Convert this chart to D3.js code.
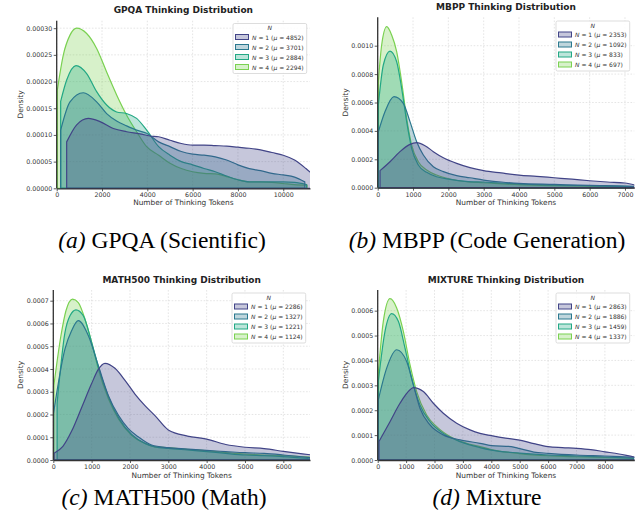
<!DOCTYPE html>
<html><head><meta charset="utf-8">
<script src="https://cdn.jsdelivr.net/npm/d3@7"></script>
<style>body{margin:0;background:#fff}svg{display:block}</style>
</head><body>
<svg id="chart" width="637" height="524"></svg>
<script>
// ---------- DATA ----------
const seriesN = [1, 2, 3, 4];
const seriesColors = ["#414487", "#2a788e", "#22a884", "#7ad151"];

const gpqaMeans = [4852, 3701, 2884, 2294];
const mbppMeans = [2353, 1092, 833, 697];
const mathMeans = [2286, 1327, 1221, 1124];
const mixMeans  = [2863, 1886, 1459, 1337];

const gpqaXTicks = [0, 2000, 4000, 6000, 8000, 10000];
const gpqaYTicks = [0, 0.00005, 0.0001, 0.00015, 0.0002, 0.00025, 0.0003];
const mbppXTicks = [0, 1000, 2000, 3000, 4000, 5000, 6000, 7000];
const mbppYTicks = [0, 0.0002, 0.0004, 0.0006, 0.0008, 0.001];
const mathXTicks = [0, 1000, 2000, 3000, 4000, 5000, 6000];
const mathYTicks = [0, 0.0001, 0.0002, 0.0003, 0.0004, 0.0005, 0.0006, 0.0007];
const mixXTicks  = [0, 1000, 2000, 3000, 4000, 5000, 6000, 7000, 8000];
const mixYTicks  = [0, 0.0001, 0.0002, 0.0003, 0.0004, 0.0005, 0.0006];

// [tokens, density]
const gpqaN1 = [[440,0.000087],[881,0.000119],[1395,0.000131],[1910,0.000125],[2499,0.000112],[3087,0.000106],[3675,0.000102],[4117,0.000098],[4500,0.0000966],[5000,0.00009],[5500,0.000084],[6000,0.000081],[6500,0.000081],[7000,0.00008],[7500,0.000079],[8000,0.000077],[8500,0.000075],[9000,0.000072],[9500,0.000067],[10000,0.000062],[10500,0.000053],[11000,0.000037],[11400,0.000022]];
const gpqaN2 = [[175,0.000109],[587,0.000162],[1175,0.000179],[1763,0.000162],[2204,0.00014],[2646,0.000126],[3087,0.000117],[3528,0.000109],[3970,0.000103],[4500,0.000087],[5000,0.000078],[5500,0.000069],[6000,0.000064],[6500,0.000062],[7000,0.000059],[7500,0.000053],[8000,0.000044],[8500,0.000037],[9000,0.000033],[9500,0.000028],[10000,0.000025],[10500,0.000021],[10950,0.000012]];
const gpqaN3 = [[175,0.000163],[440,0.000203],[852,0.00023],[1322,0.000215],[1763,0.000181],[2204,0.000156],[2646,0.000143],[3087,0.00014],[3528,0.000131],[3970,0.000109],[4500,0.000078],[5000,0.000062],[5500,0.00005],[6000,0.000044],[6500,0.000037],[7000,0.000031],[7500,0.000023],[8000,0.000016],[8500,0.000012],[9000,0.000012],[9500,0.000012],[10000,0.000012],[10500,0.000011],[11030,0.000007]];
const gpqaN4 = [[28,0.000184],[293,0.00025],[587,0.000287],[881,0.0003],[1322,0.00029],[1763,0.000262],[2204,0.000218],[2646,0.000175],[3087,0.000137],[3528,0.000106],[3970,0.000078],[4500,0.000062],[5000,0.000047],[5500,0.000037],[6000,0.000031],[6500,0.000028],[7000,0.000027],[7500,0.000022],[8000,0.000016],[8500,0.000012],[9000,0.000012],[9500,0.000011],[10000,0.000009],[10500,0.000007],[11050,0.000006]];

const mbppN1 = [[66,0.00012],[348,0.000183],[631,0.000254],[914,0.000305],[1103,0.000317],[1339,0.000296],[1575,0.000254],[1858,0.000211],[2235,0.000171],[2612,0.000141],[3000,0.00012],[3500,0.000104],[4000,0.000089],[4500,0.00008],[5000,0.00007],[5500,0.00006],[6000,0.000049],[6500,0.00004],[7000,0.000033],[7300,0.000017]];
const mbppN2 = [[18,0.000394],[206,0.000535],[461,0.000641],[725,0.000594],[914,0.000465],[1103,0.000324],[1292,0.00023],[1575,0.000148],[1858,0.000113],[2235,0.000085],[2612,0.00007],[3000,0.000054],[3500,0.00004],[4000,0.00003],[5000,0.000023],[6000,0.000016],[7000,0.000012],[7250,0.00001]];
const mbppN3 = [[18,0.000582],[159,0.000864],[348,0.000962],[537,0.000887],[678,0.0007],[820,0.000465],[961,0.000277],[1150,0.00016],[1386,0.000108],[1669,0.000077],[2047,0.000059],[2500,0.000045],[3000,0.00004],[4000,0.000026],[5000,0.000019],[6000,0.000014],[7000,0.000009],[7200,0.000008]];
const mbppN4 = [[18,0.000746],[112,0.001005],[255,0.001134],[395,0.001075],[537,0.000958],[678,0.000746],[820,0.000488],[961,0.0003],[1150,0.000183],[1386,0.000124],[1669,0.000089],[2047,0.000061],[2518,0.000042],[3000,0.000035],[4000,0.000021],[5000,0.000014],[6000,0.00001],[7000,0.000007],[7150,0.000006]];

const mathN1 = [[20,0.00003],[250,0.00006],[479,0.000127],[740,0.000231],[1000,0.000336],[1174,0.000398],[1348,0.000425],[1609,0.000403],[1870,0.00035],[2130,0.00029],[2391,0.000239],[2652,0.000195],[3000,0.000132],[3500,0.000105],[4000,0.000092],[4500,0.000068],[5000,0.000056],[5500,0.00005],[6000,0.000038],[6500,0.000027],[6800,0.000021]];
const mathN2 = [[5,0.000204],[305,0.000488],[479,0.000569],[652,0.000612],[913,0.000547],[1174,0.000415],[1435,0.000284],[1696,0.000197],[1957,0.000138],[2217,0.000102],[2565,0.000066],[3000,0.000054],[3500,0.000048],[4000,0.000042],[4500,0.000037],[5000,0.000032],[5500,0.000029],[6000,0.000022],[6696,0.00001]];
const mathN3 = [[100,0.00025],[305,0.000561],[435,0.000634],[591,0.00066],[783,0.000634],[1000,0.000517],[1217,0.000386],[1478,0.000262],[1739,0.000175],[2043,0.000112],[2391,0.000073],[2652,0.000058],[3000,0.000051],[3500,0.000044],[4000,0.000037],[4500,0.000029],[5000,0.000022],[5500,0.000019],[6000,0.000015],[6650,0.000007]];
const mathN4 = [[15,0.000328],[200,0.000547],[330,0.000656],[504,0.000707],[652,0.000692],[826,0.00062],[1000,0.000517],[1174,0.0004],[1435,0.00027],[1696,0.000182],[2043,0.000109],[2391,0.000073],[2652,0.000058],[3000,0.000054],[3500,0.000047],[4000,0.000041],[4500,0.000032],[5000,0.000026],[5500,0.000022],[6000,0.000019],[6696,0.000013]];

const mixN1 = [[45,0.000074],[433,0.000154],[785,0.000228],[1137,0.000282],[1255,0.000291],[1607,0.000275],[1959,0.000228],[2310,0.000188],[2780,0.000148],[3250,0.000121],[3602,0.000107],[4000,0.000098],[4500,0.000088],[5000,0.00008],[5500,0.000066],[6000,0.000054],[6500,0.00005],[7000,0.000047],[7500,0.000042],[8000,0.000033],[8500,0.000024],[9000,0.000013],[9100,0.000011]];
const mixN2 = [[22,0.000242],[316,0.000369],[668,0.000443],[1020,0.000396],[1255,0.000302],[1489,0.000208],[1841,0.000141],[2310,0.000101],[2898,0.000081],[3602,0.000067],[4000,0.000058],[4700,0.000054],[5000,0.000046],[5500,0.000032],[6000,0.000027],[7000,0.00002],[8000,0.000016],[9000,0.000011],[9100,0.00001]];
const mixN3 = [[22,0.000315],[257,0.000517],[492,0.000588],[727,0.000557],[961,0.00045],[1196,0.000329],[1489,0.000221],[1841,0.000154],[2310,0.000107],[2898,0.000074],[3602,0.00005],[4000,0.00004],[5000,0.000028],[6000,0.00002],[7000,0.000016],[8000,0.000012],[9000,0.000007]];
const mixN4 = [[22,0.000349],[198,0.000557],[433,0.000648],[668,0.000611],[903,0.000517],[1137,0.000383],[1372,0.000275],[1724,0.000181],[2076,0.000134],[2663,0.000087],[3250,0.000063],[3602,0.000054],[4000,0.000042],[5000,0.000026],[6000,0.000017],[7000,0.000013],[8000,0.00001],[9000,0.000007]];

const titles = ["GPQA Thinking Distribution", "MBPP Thinking Distribution", "MATH500 Thinking Distribution", "MIXTURE Thinking Distribution"];
const captionTags = ["(a)", "(b)", "(c)", "(d)"];
const captionTexts = ["GPQA (Scientific)", "MBPP (Code Generation)", "MATH500 (Math)", "Mixture"];

// ---------- LAYOUT ----------
const panels = [
  {id:"a", series:[gpqaN1,gpqaN2,gpqaN3,gpqaN4], means:gpqaMeans, xTicks:gpqaXTicks, yTicks:gpqaYTicks, yFmt:".5f",
   left:56.7, right:310, top:20.7, bottom:188.3, xMax:11180, yMax:0.000314, titleY:13.3, ylabX:20.7, xlabY:205, legX:233, legY:23.5, capX:162, capY:248},
  {id:"b", series:[mbppN1,mbppN2,mbppN3,mbppN4], means:mbppMeans, xTicks:mbppXTicks, yTicks:mbppYTicks, yFmt:".4f",
   left:377.7, right:634.3, top:17.3, bottom:187.7, xMax:7264, yMax:0.0012, titleY:10, ylabX:345, xlabY:205, legX:556, legY:21, capX:487, capY:248},
  {id:"c", series:[mathN1,mathN2,mathN3,mathN4], means:mathMeans, xTicks:mathXTicks, yTicks:mathYTicks, yFmt:".4f",
   left:53.3, right:310, top:290, bottom:460, xMax:6696, yMax:0.000747, titleY:283.3, ylabX:20.7, xlabY:478, legX:232, legY:293, capX:164, capY:505},
  {id:"d", series:[mixN1,mixN2,mixN3,mixN4], means:mixMeans, xTicks:mixXTicks, yTicks:mixYTicks, yFmt:".4f",
   left:377.7, right:634.3, top:290, bottom:460, xMax:9035, yMax:0.000683, titleY:283.3, ylabX:345, xlabY:478, legX:556, legY:293, capX:487, capY:505}
];

const svg = d3.select("#chart");
const FONT = "DejaVu Sans, sans-serif";
const INK = "#333333";

panels.forEach((p, pi) => {
  const x = d3.scaleLinear().domain([0, p.xMax]).range([p.left, p.right]);
  const y = d3.scaleLinear().domain([0, p.yMax]).range([p.bottom, p.top]);
  const g = svg.append("g");
  const cid = "clip-" + p.id;
  svg.append("clipPath").attr("id", cid).append("rect")
    .attr("x", p.left).attr("y", p.top - 2).attr("width", p.right - p.left).attr("height", p.bottom - p.top + 4);

  // grid
  const grid = g.append("g").attr("stroke", "#d4d4d4").attr("stroke-width", 0.6).attr("stroke-dasharray", "1.6,1.6");
  grid.selectAll("line.gx").data(p.xTicks).join("line")
    .attr("x1", d => x(d)).attr("x2", d => x(d)).attr("y1", p.top).attr("y2", p.bottom);
  grid.selectAll("line.gy").data(p.yTicks).join("line")
    .attr("x1", p.left).attr("x2", p.right).attr("y1", d => y(d)).attr("y2", d => y(d));

  // densities: N=4 at the bottom, N=1 on top
  const area = d3.area().x(d => x(d[0])).y0(y(0)).y1(d => y(d[1])).curve(d3.curveMonotoneX);
  const ag = g.append("g").attr("clip-path", `url(#${cid})`);
  [3, 2, 1, 0].forEach(i => {
    ag.append("path").datum(p.series[i]).attr("d", area)
      .attr("fill", seriesColors[i]).attr("fill-opacity", 0.3)
      .attr("stroke", seriesColors[i]).attr("stroke-width", 1.2).attr("stroke-linejoin", "round");
  });

  // axes
  const xa = g.append("g").attr("transform", `translate(0,${p.bottom})`)
    .call(d3.axisBottom(x).tickValues(p.xTicks).tickFormat(d3.format("d")).tickSize(3).tickSizeOuter(0).tickPadding(1.5));
  const ya = g.append("g").attr("transform", `translate(${p.left},0)`)
    .call(d3.axisLeft(y).tickValues(p.yTicks).tickFormat(d3.format(p.yFmt)).tickSize(3).tickSizeOuter(0).tickPadding(1.5));
  [xa, ya].forEach(a => {
    a.select(".domain").attr("stroke", INK).attr("stroke-width", 1.3);
    a.selectAll(".tick line").attr("stroke", INK).attr("stroke-width", 0.8);
    a.selectAll(".tick text").attr("fill", INK).attr("font-family", FONT).attr("font-size", 6.3);
  });
  ya.select(".domain").attr("d", `M0,${p.bottom}V${p.top}`);

  // labels
  const cx = (p.left + p.right) / 2;
  g.append("text").attr("x", cx).attr("y", p.titleY).attr("text-anchor", "middle")
    .attr("font-family", FONT).attr("font-weight", "bold").attr("font-size", 9).attr("fill", "#222").text(titles[pi]);
  g.append("text").attr("x", cx).attr("y", p.xlabY).attr("text-anchor", "middle")
    .attr("font-family", FONT).attr("font-size", 7.4).attr("fill", INK).text("Number of Thinking Tokens");
  g.append("text").attr("transform", `translate(${p.ylabX + 2.5},${(p.top + p.bottom) / 2}) rotate(-90)`)
    .attr("text-anchor", "middle").attr("font-family", FONT).attr("font-size", 7.4).attr("fill", INK).text("Density");

  // legend
  const lg = g.append("g").attr("transform", `translate(${p.legX},${p.legY})`);
  const box = lg.append("rect").attr("rx", 1.5).attr("fill", "#fff").attr("fill-opacity", 0.85)
    .attr("stroke", "#cfcfcf").attr("stroke-width", 0.7);
  lg.append("text").attr("y", 6.8).attr("text-anchor", "middle").attr("font-family", FONT)
    .attr("font-style", "italic").attr("font-size", 6).attr("fill", INK).attr("class", "ltitle").text("N");
  let maxW = 0;
  seriesN.forEach((n, i) => {
    const ry = 14 + i * 10;
    lg.append("rect").attr("x", 2.5).attr("y", ry - 3).attr("width", 13).attr("height", 5)
      .attr("fill", seriesColors[i]).attr("fill-opacity", 0.3).attr("stroke", seriesColors[i]).attr("stroke-width", 1);
    const t = lg.append("text").attr("x", 19).attr("y", ry + 2).attr("font-family", FONT).attr("font-size", 6).attr("fill", INK);
    t.append("tspan").attr("font-style", "italic").text("N");
    t.append("tspan").text(` = ${n} (`);
    t.append("tspan").attr("font-style", "italic").text("μ");
    t.append("tspan").text(` = ${p.means[i]})`);
    maxW = Math.max(maxW, t.node().getComputedTextLength());
  });
  const bw = 19 + maxW + 3;
  box.attr("width", bw).attr("height", 50);
  lg.select(".ltitle").attr("x", bw / 2);

  // caption
  const cap = svg.append("text").attr("x", p.capX).attr("y", p.capY).attr("text-anchor", "middle")
    .attr("font-family", "Liberation Serif, Times New Roman, serif").attr("font-size", 23.5).attr("fill", "#000");
  cap.append("tspan").attr("font-style", "italic").text(captionTags[pi]);
  cap.append("tspan").text(" " + captionTexts[pi]);
});
</script>
</body></html>
